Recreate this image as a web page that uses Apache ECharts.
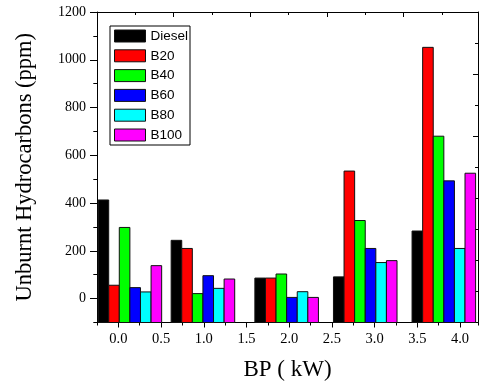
<!DOCTYPE html>
<html>
<head>
<meta charset="utf-8">
<script src="https://cdn.jsdelivr.net/npm/echarts@6/dist/echarts.min.js"></script>
<style>
html,body{margin:0;padding:0;background:#fff;}
#chart{width:479px;height:387px;}
</style>
</head>
<body>
<div id="chart"></div>
<script>
// ---- data ----
const seriesNames = ['Diesel', 'B20', 'B40', 'B60', 'B80', 'B100'];
const groupPositions = [0.135, 0.99, 1.97, 2.89, 3.81]; // x centre of each bar group (BP axis units)
const diesel = [413, 244, 86, 91, 283];
const b20    = [56, 210, 86, 534, 1052];
const b40    = [298, 21, 103, 327, 680];
const b60    = [46, 96, 5, 210, 493];
const b80    = [28, 43, 29, 151, 210];
const b100   = [138, 82, 5, 159, 525];
const xTickLabels = [0.0, 0.5, 1.0, 1.5, 2.0, 2.5, 3.0, 3.5, 4.0];
const yTickLabels = [0, 200, 400, 600, 800, 1000, 1200];

// ---- styling ----
const colors = ['#000000', '#ff0000', '#00ff00', '#0000ff', '#00ffff', '#ff00ff'];
const X_MIN = -0.25, X_MAX = 4.21, Y_MIN = -100, Y_MAX = 1200;
const BAR_W = 0.124;
const serif = 'Liberation Serif, Times New Roman, serif';
const sans = 'Liberation Sans, Arial, sans-serif';
const allValues = [diesel, b20, b40, b60, b80, b100];

const chart = echarts.init(document.getElementById('chart'), null, {renderer: 'canvas'});

const series = seriesNames.map((name, si) => ({
  name: name,
  type: 'custom',
  xAxisIndex: 0,
  yAxisIndex: 0,
  itemStyle: {color: colors[si], borderColor: '#000', borderWidth: 1},
  encode: {x: 0, y: 1},
  data: groupPositions.map((x, gi) => [x, allValues[si][gi]]),
  renderItem: function (params, api) {
    const x = api.value(0), y = api.value(1);
    const c = x + (si - 2.5) * BAR_W;
    const p0 = api.coord([c - BAR_W / 2, y]);
    const p1 = api.coord([c + BAR_W / 2, Y_MIN]);
    return {
      type: 'rect',
      shape: {x: p0[0], y: p0[1], width: p1[0] - p0[0], height: p1[1] - p0[1]},
      style: {fill: colors[si], stroke: '#111', lineWidth: 1}
    };
  },
  z: 2
}));

const axisLineStyle = {color: '#000', width: 1};

const option = {
  animation: false,
  backgroundColor: '#fff',
  color: colors,
  grid: {left: 97, right: 1, top: 12, bottom: 64.5, containLabel: false, outerBoundsMode: 'none'},
  legend: {
    data: seriesNames,
    orient: 'vertical',
    left: 110,
    top: 26,
    icon: 'rect',
    itemWidth: 31,
    itemHeight: 12,
    itemGap: 5.8,
    padding: [3, 2, 3, 4],
    borderColor: '#000',
    borderWidth: 1,
    itemStyle: {borderColor: '#111', borderWidth: 1},
    textStyle: {fontFamily: sans, fontSize: 13.5, color: '#000', padding: [0, 0, 0, 0]}
  },
  xAxis: [
    {
      type: 'value', min: X_MIN, max: X_MAX, position: 'bottom',
      name: 'BP ( kW)', nameLocation: 'middle', nameGap: 36,
      nameTextStyle: {fontFamily: serif, fontSize: 23, color: '#000'},
      axisLine: {show: true, onZero: false, lineStyle: axisLineStyle},
      axisTick: {show: true, customValues: xTickLabels, length: 5, inside: false, lineStyle: axisLineStyle},
      axisLabel: {show: true, customValues: xTickLabels, formatter: v => Number(v).toFixed(1),
        fontFamily: serif, fontSize: 14.5, color: '#000', margin: 9},
      splitLine: {show: false}
    },
    {
      type: 'value', min: X_MIN, max: X_MAX, interval: 0.25, position: 'bottom',
      axisLine: {show: false, onZero: false},
      axisTick: {show: true, length: 3, inside: false, lineStyle: axisLineStyle},
      axisLabel: {show: false},
      splitLine: {show: false}
    },
    {
      type: 'value', min: 0, max: 4.97, interval: 1, position: 'top',
      axisLine: {show: true, onZero: false, lineStyle: axisLineStyle},
      axisTick: {show: true, length: 5, inside: true, lineStyle: axisLineStyle},
      minorTick: {show: true, splitNumber: 2, length: 3, lineStyle: axisLineStyle},
      axisLabel: {show: false},
      splitLine: {show: false}
    }
  ],
  yAxis: [
    {
      type: 'value', min: Y_MIN, max: Y_MAX, position: 'left',
      name: 'Unburnt Hydrocarbons (ppm)', nameLocation: 'middle', nameGap: 60, nameRotate: 90,
      nameTextStyle: {fontFamily: serif, fontSize: 22.5, color: '#000'},
      axisLine: {show: true, onZero: false, lineStyle: axisLineStyle},
      axisTick: {show: true, customValues: yTickLabels, length: 7, inside: false, lineStyle: axisLineStyle},
      axisLabel: {show: true, customValues: yTickLabels, formatter: v => String(v),
        fontFamily: serif, fontSize: 14, color: '#000', margin: 11},
      splitLine: {show: false}
    },
    {
      type: 'value', min: Y_MIN, max: Y_MAX, interval: 100, position: 'left',
      axisLine: {show: false, onZero: false},
      axisTick: {show: true, length: 3.7, inside: false, lineStyle: axisLineStyle},
      axisLabel: {show: false},
      splitLine: {show: false}
    },
    {
      type: 'value', min: 0, max: 5, interval: 1, position: 'right',
      axisLine: {show: true, onZero: false, lineStyle: axisLineStyle},
      axisTick: {show: true, length: 5, inside: true, lineStyle: axisLineStyle},
      minorTick: {show: true, splitNumber: 2, length: 3, lineStyle: axisLineStyle},
      axisLabel: {show: false},
      splitLine: {show: false}
    }
  ],
  series: series
};
chart.setOption(option);
</script>
</body>
</html>
